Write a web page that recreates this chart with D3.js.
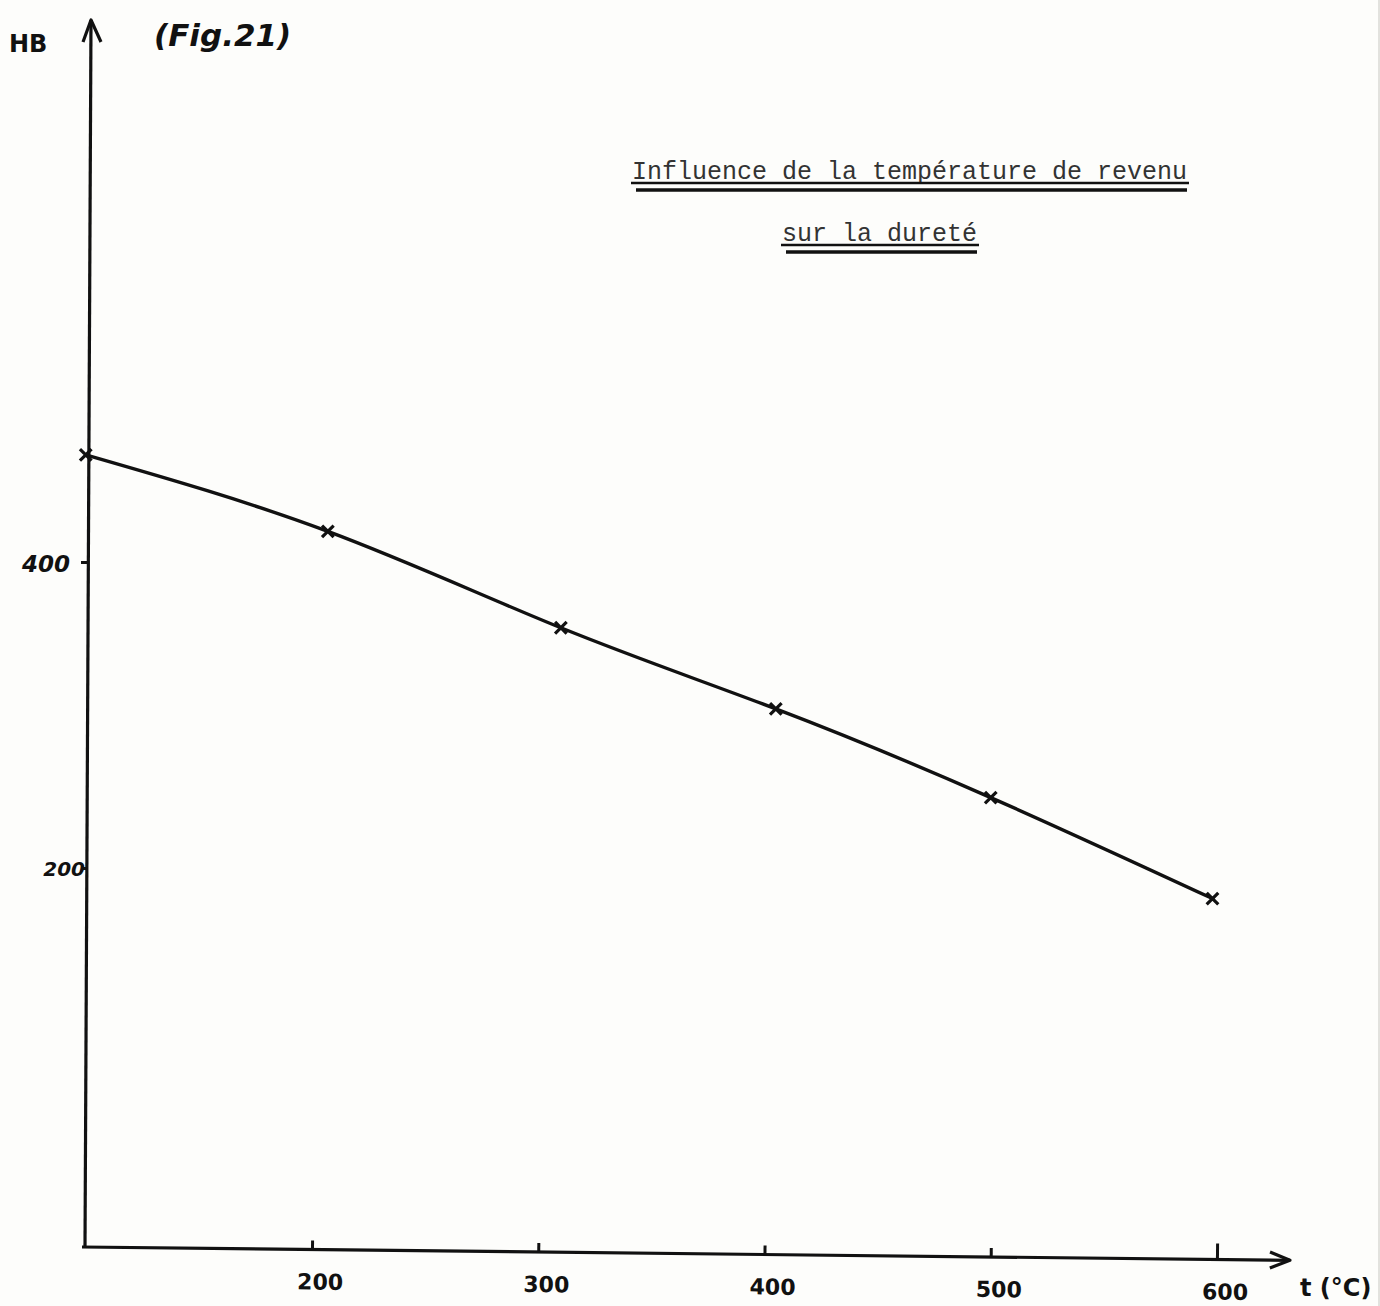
<!DOCTYPE html>
<html>
<head>
<meta charset="utf-8">
<script src="https://cdn.jsdelivr.net/npm/d3@7"></script>
<style>
  body { margin: 0; background: #fdfdfb; }
  svg { display: block; }
  .hand { font-family: "DejaVu Sans", sans-serif; font-weight: bold; font-style: italic; fill: #111; }
  .type { font-family: "Liberation Mono", "DejaVu Sans Mono", monospace; font-size: 25px; fill: #333; }
</style>
</head>
<body>
<svg id="chart" width="1380" height="1306"></svg>
<script>
// temperature de revenu (°C) and Brinell hardness
const temperature = [100, 207, 310, 405, 500, 598];
const hardness = [470, 420, 357, 304, 246, 180];
const xTicks = [200, 300, 400, 500, 600];
const yTicks = [200, 400];
const titleLines = ["Influence de la température de revenu", "sur la dureté"];

const svg = d3.select("#chart");
const ink = "#111";

// scales set by the hand drawn tick marks
const xScale = d3.scaleLinear().domain([200, 600]).range([312, 1217]);
const yScale = d3.scaleLinear().domain([200, 400]).range([868, 562]);

// paper edge on the right
svg.append("line")
  .attr("x1", 1379).attr("y1", 0).attr("x2", 1379).attr("y2", 1306)
  .attr("stroke", "#e2e2de").attr("stroke-width", 2);

// Y axis (slightly leaning, as drawn)
const yTop = 20, yBottom = 1247;
svg.append("line")
  .attr("x1", 91).attr("y1", yTop).attr("x2", 85).attr("y2", yBottom)
  .attr("stroke", ink).attr("stroke-width", 3.2);
svg.append("path")
  .attr("d", `M83,42 L91,${yTop} L101,42`)
  .attr("fill", "none").attr("stroke", ink).attr("stroke-width", 3.2)
  .attr("stroke-linejoin", "round");

const yAxis = d3.axisLeft(yScale).tickValues(yTicks).tickSize(7).tickFormat("");
const yAxisGroup = svg.append("g")
  .attr("transform", `translate(88, 0)`)
  .call(yAxis);
yAxisGroup.select(".domain").remove();
yAxisGroup.selectAll("line").attr("stroke", ink).attr("stroke-width", 3);

// hand written y labels
svg.append("text").attr("class", "hand")
  .attr("x", 70).attr("y", yScale(400) + 10)
  .attr("text-anchor", "end").style("font-size", "23px")
  .text("400");
svg.append("text").attr("class", "hand")
  .attr("x", 85).attr("y", yScale(200) + 8)
  .attr("text-anchor", "end").style("font-size", "20px")
  .text("200");

svg.append("text").attr("class", "hand")
  .attr("x", 9).attr("y", 52).style("font-size", "24px").style("font-style", "normal")
  .text("HB");
svg.append("text").attr("class", "hand")
  .attr("x", 154).attr("y", 46).style("font-size", "31px").style("font-weight", "600")
  .text("(Fig.21)");

// X axis (slightly tilted down to the right)
const xAxisY = 1247;
const xAxisGroup = svg.append("g")
  .attr("transform", `rotate(0.63, 82, ${xAxisY})`);
xAxisGroup.append("line")
  .attr("x1", 82).attr("y1", xAxisY).attr("x2", 1290).attr("y2", xAxisY)
  .attr("stroke", ink).attr("stroke-width", 3.2);
xAxisGroup.append("path")
  .attr("d", `M1270,${xAxisY - 8} L1290,${xAxisY} L1270,${xAxisY + 8}`)
  .attr("fill", "none").attr("stroke", ink).attr("stroke-width", 3.2)
  .attr("stroke-linejoin", "round");

const xAxis = d3.axisBottom(xScale).tickValues(xTicks).tickSizeInner(-9).tickSizeOuter(0);
const xTickGroup = xAxisGroup.append("g")
  .attr("transform", `translate(0, ${xAxisY})`)
  .call(xAxis);
xTickGroup.select(".domain").remove();
xTickGroup.selectAll("line")
  .attr("stroke", ink).attr("stroke-width", 3)
  .attr("y2", d => d === 600 ? -16 : -9);
xTickGroup.selectAll("text")
  .attr("class", "hand")
  .attr("y", 40).attr("dy", 0).attr("dx", 8)
  .style("font-size", "22px")
  .style("font-style", "normal")
  .attr("fill", ink);
xTickGroup.attr("font-family", null).attr("font-size", null);

svg.append("text").attr("class", "hand")
  .attr("x", 1300).attr("y", 1296).style("font-size", "24px").style("font-style", "normal")
  .text("t (°C)");

// title, typewritten with double underline
const titleX = [632, 782];
const titleY = [179, 241];
titleLines.forEach((t, i) => {
  svg.append("text").attr("class", "type")
    .attr("x", titleX[i]).attr("y", titleY[i])
    .text(t);
  const w = t.length * 15;
  svg.append("line")
    .attr("x1", titleX[i] - 1).attr("x2", titleX[i] + w + 2)
    .attr("y1", titleY[i] + 4).attr("y2", titleY[i] + 4)
    .attr("stroke", ink).attr("stroke-width", 2.4);
  svg.append("line")
    .attr("x1", titleX[i] + 4).attr("x2", titleX[i] + w)
    .attr("y1", titleY[i] + 11).attr("y2", titleY[i] + 11)
    .attr("stroke", ink).attr("stroke-width", 3.6);
});

// hardness curve
const data = temperature.map((t, i) => ({ t: t, hb: hardness[i] }));
const line = d3.line()
  .x(d => xScale(d.t))
  .y(d => yScale(d.hb))
  .curve(d3.curveNatural);

svg.append("path")
  .datum(data)
  .attr("d", line)
  .attr("fill", "none")
  .attr("stroke", ink)
  .attr("stroke-width", 3.4)
  .attr("stroke-linecap", "round");

// cross markers
svg.selectAll(".mark")
  .data(data)
  .enter().append("path")
  .attr("class", "mark")
  .attr("d", d3.symbol().type(d3.symbolX).size(90))
  .attr("transform", d => `translate(${xScale(d.t)}, ${yScale(d.hb)})`)
  .attr("fill", "none")
  .attr("stroke", ink)
  .attr("stroke-width", 3.2);
</script>
</body>
</html>
